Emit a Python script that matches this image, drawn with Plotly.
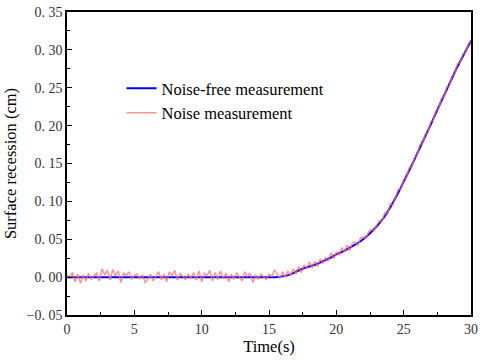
import plotly.graph_objects as go

# Noise-free curve (time step 0.5 s)
clean_t = [0.0, 0.5, 1.0, 1.5, 2.0, 2.5, 3.0, 3.5, 4.0, 4.5, 5.0, 5.5, 6.0, 6.5, 7.0, 7.5,
           8.0, 8.5, 9.0, 9.5, 10.0, 10.5, 11.0, 11.5, 12.0, 12.5, 13.0, 13.5, 14.0, 14.5,
           15.0, 15.5, 16.0, 16.5, 17.0, 17.5, 18.0, 18.5, 19.0, 19.5, 20.0, 20.5, 21.0,
           21.5, 22.0, 22.5, 23.0, 23.5, 24.0, 24.5, 25.0, 25.5, 26.0, 26.5, 27.0, 27.5,
           28.0, 28.5, 29.0, 29.5, 30.0]
clean_y = [0.0] * 32 + [0.001, 0.003, 0.007, 0.011, 0.014, 0.017, 0.021, 0.025, 0.030,
                        0.034, 0.039, 0.044, 0.050, 0.058, 0.067, 0.078, 0.092, 0.108,
                        0.126, 0.144, 0.163, 0.182, 0.201, 0.221, 0.240, 0.259, 0.278,
                        0.295, 0.312]

# Noisy measurement (time step 0.2 s)
noise_y = [
    0.003, -0.002, 0.006, -0.006, 0.004, -0.008, 0.003, -0.005, 0.005, -0.003,
    0.002, 0.005, -0.005, 0.011, 0.003, 0.009, -0.004, 0.010, 0.002, 0.008,
    -0.007, 0.005, 0.002, 0.007, -0.003, 0.002, 0.004, -0.002, 0.003, -0.007,
    -0.003, 0.004, -0.005, 0.002, 0.007, -0.003, 0.004, -0.006, 0.007, 0.002,
    0.009, -0.004, 0.005, 0.001, -0.003, 0.004, -0.002, 0.006, -0.004, 0.008,
    -0.006, 0.005, 0.002, 0.009, -0.005, 0.006, -0.003, 0.008, -0.002, 0.005,
    -0.006, 0.004, -0.003, 0.006, 0.001, -0.005, 0.007, 0.001, 0.005, -0.007,
    0.003, -0.003, 0.004, 0.001, -0.003, 0.004, 0.001, 0.009,
    0.005, -0.002, 0.007, 0.000, 0.008, 0.002, 0.011, 0.004, 0.014, 0.006,
    0.016, 0.011, 0.020, 0.012, 0.021, 0.014, 0.024, 0.018, 0.026, 0.021,
    0.032, 0.024, 0.033, 0.029, 0.039, 0.033, 0.042, 0.035, 0.045, 0.046,
    0.042, 0.052, 0.053, 0.051, 0.060, 0.063, 0.061, 0.069, 0.074, 0.074,
    0.085, 0.083, 0.097, 0.095, 0.107, 0.116, 0.116, 0.129, 0.131, 0.144,
    0.145, 0.158, 0.161, 0.175, 0.176, 0.189, 0.190, 0.205, 0.207, 0.220,
    0.222, 0.236, 0.238, 0.251, 0.252, 0.266, 0.268, 0.282, 0.283, 0.295,
    0.296, 0.308, 0.311]
noise_t = [round(i * 0.2, 1) for i in range(len(noise_y))]

y_tickvals = [-0.05, 0.0, 0.05, 0.10, 0.15, 0.20, 0.25, 0.30, 0.35]
y_ticktext = ["\u22120. 05", "0. 00", "0. 05", "0. 10", "0. 15", "0. 20", "0. 25", "0. 30", "0. 35"]
x_tickvals = [0, 5, 10, 15, 20, 25, 30]
x_ticktext = ["0", "5", "10", "15", "20", "25", "30"]

FONT = "Liberation Serif"

fig = go.Figure()
fig.add_trace(go.Scatter(x=clean_t, y=clean_y, mode="lines", name="Noise-free measurement",
                         line=dict(color="#0000FF", width=2, shape="spline"), legendrank=1))
fig.add_trace(go.Scatter(x=noise_t, y=noise_y, mode="lines", name="Noise measurement",
                         line=dict(color="rgba(255,110,110,0.75)", width=1.5), legendrank=2))

fig.update_layout(
    width=483, height=360,
    margin=dict(l=67, r=5, t=10, b=45),
    plot_bgcolor="white", paper_bgcolor="white",
    font=dict(family=FONT, color="black", size=14),
    xaxis=dict(
        range=[0, 30], tickmode="array", tickvals=x_tickvals, ticktext=x_ticktext,
        showline=True, linecolor="black", linewidth=1.5, mirror=True,
        ticks="inside", ticklen=5, tickcolor="black", tickwidth=1,
        showgrid=False, zeroline=False,
        tickfont=dict(family=FONT, size=14, color="#333333"),
        minor=dict(ticks="inside", ticklen=3, dtick=2.5, tick0=0, tickcolor="black"),
        title=dict(text="Time(s)", font=dict(family=FONT, size=16.5, color="black"), standoff=3),
    ),
    yaxis=dict(
        range=[-0.05, 0.35], tickmode="array", tickvals=y_tickvals, ticktext=y_ticktext,
        showline=True, linecolor="black", linewidth=1.5, mirror=True,
        ticks="inside", ticklen=5, tickcolor="black", tickwidth=1,
        showgrid=False, zeroline=False,
        tickfont=dict(family=FONT, size=14, color="#333333"),
        minor=dict(ticks="inside", ticklen=3, dtick=0.025, tick0=0, tickcolor="black"),
        title=dict(text="Surface recession (cm)", font=dict(family=FONT, size=16.5, color="black"), standoff=6),
    ),
    legend=dict(x=0.135, y=0.805, xanchor="left", yanchor="top",
                bgcolor="rgba(0,0,0,0)", font=dict(family=FONT, size=16.5, color="black"),
                tracegroupgap=0, itemwidth=30),
)

fig.write_html("out.html")
